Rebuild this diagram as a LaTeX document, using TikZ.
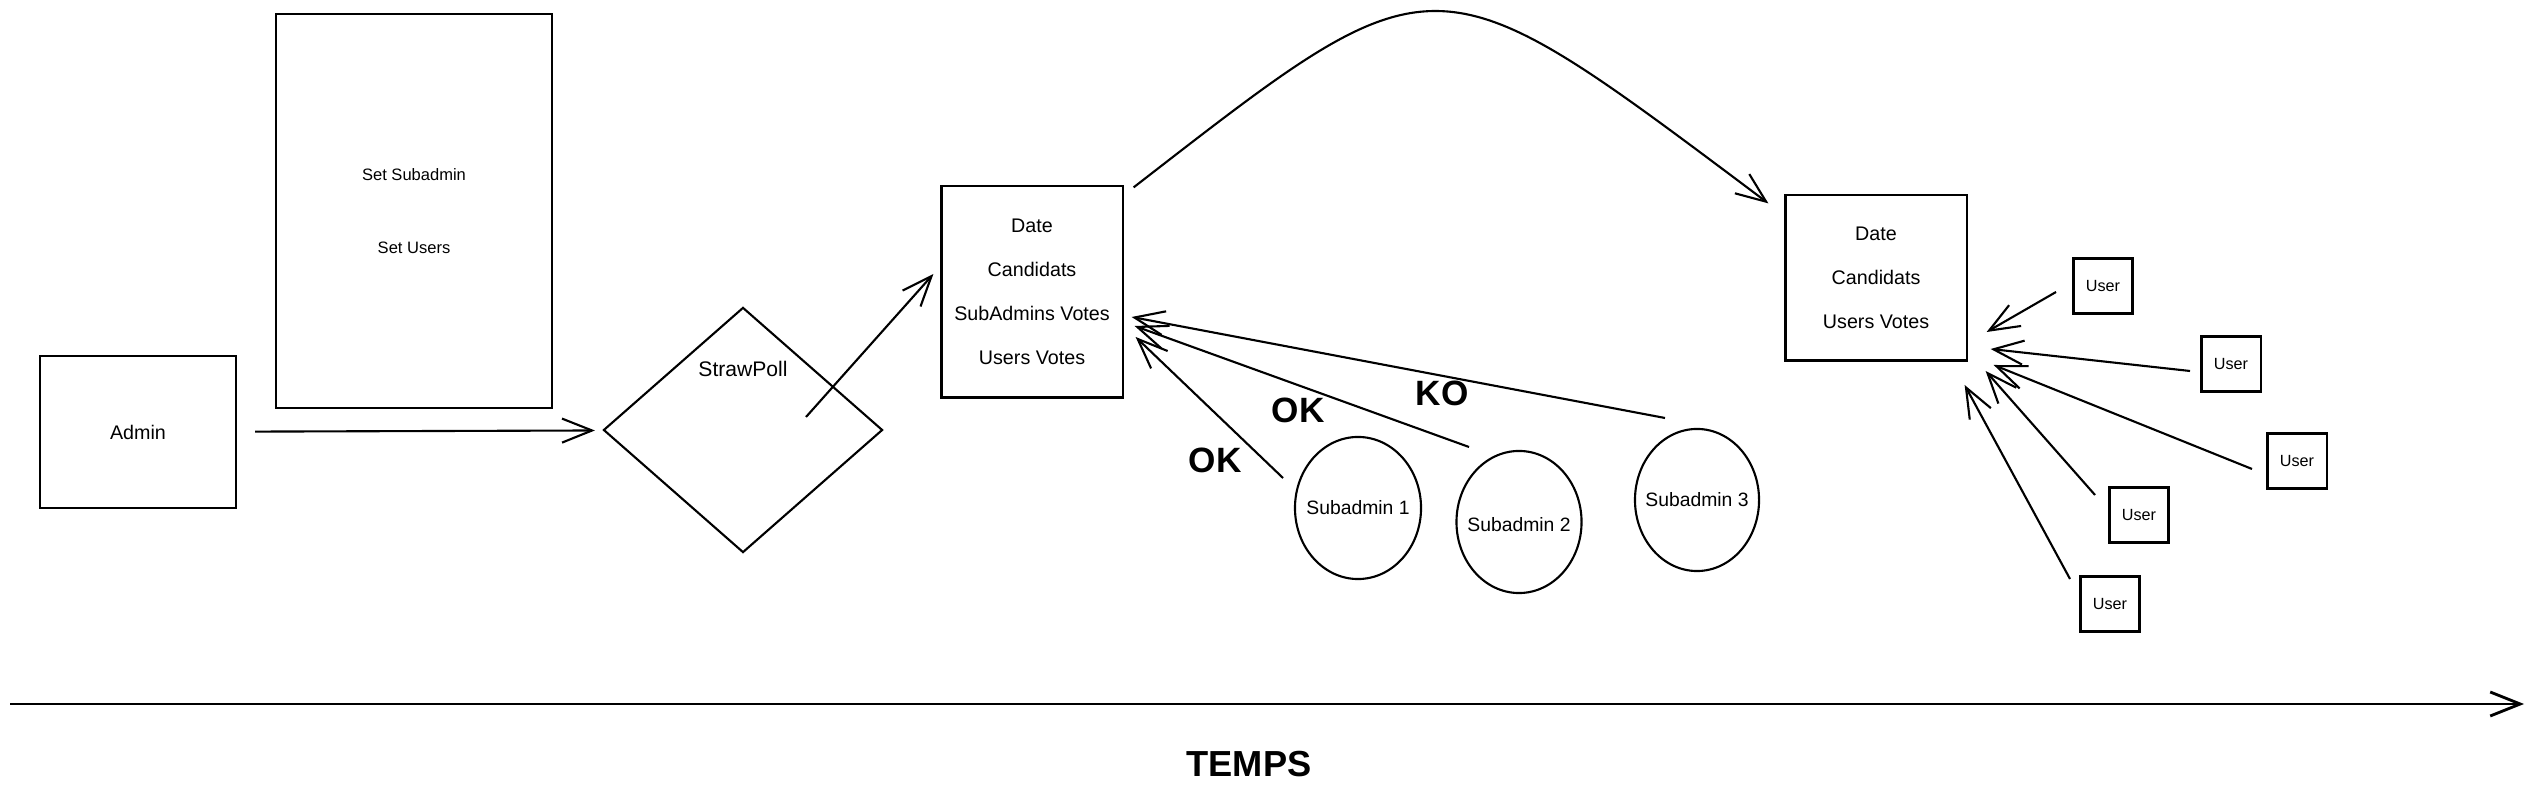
\documentclass[tikz,border=0pt]{standalone}
\usepackage{fontspec}
\setmainfont{Liberation Sans}
\usetikzlibrary{shapes.geometric, arrows.meta, positioning, calc}

\begin{document}
\begin{tikzpicture}[
    x=0.01cm, y=-0.01cm,
    box/.style={rectangle, draw, line width=0.6pt, inner sep=0pt, align=center, font=\fontsize{5.6}{12.5}\selectfont},
    userbox/.style={rectangle, draw, line width=0.6pt, minimum width=0.59cm, minimum height=0.55cm, inner sep=0pt, font=\fontsize{4.6}{5.5}\selectfont},
    subadmin/.style={ellipse, draw, line width=0.6pt, minimum width=1.26cm, minimum height=1.42cm, inner sep=0pt},
    subtext/.style={font=\fontsize{5.5}{6.6}\selectfont, inner sep=0pt},
    pollshape/.style={diamond, draw, line width=0.6pt, minimum width=2.79cm, minimum height=2.45cm, inner sep=0pt},
    vote/.style={font=\bfseries\fontsize{10}{12}\selectfont},
    arrow/.style={-{Straight Barb[length=3mm, width=2.4mm]}, line width=0.6pt}
]
\useasboundingbox (0,0) rectangle (2537,801);

% Nodes
\node (admin) [box, minimum width=1.96cm, minimum height=1.52cm] at (138,432) {Admin};
\node (setup) [box, minimum width=2.75cm, minimum height=3.93cm, font=\fontsize{4.7}{20.7}\selectfont] at (414,211) {Set Subadmin\\Set Users};
\node (poll) [pollshape] at (743,430) {};
\node (polltext) [font=\fontsize{6}{7}\selectfont] at ($(poll)+(0,-61)$) {StrawPoll};
\node (poll1) [box, minimum width=1.81cm, minimum height=2.11cm] at (1032,292) {Date\\Candidats\\SubAdmins Votes\\Users Votes};
\node (poll2) [box, minimum width=1.81cm, minimum height=1.65cm] at (1876,278) {Date\\Candidats\\Users Votes};

\node (sub1) [subadmin] at (1358,508) {};
\node (sub1text) [subtext] at (sub1) {Subadmin 1};
\node (sub2) [subadmin, minimum width=1.25cm] at (1519,522) {};
\node (sub2text) [subtext] at ($(sub2)+(0,3)$) {Subadmin 2};
\node (sub3) [subadmin, minimum width=1.24cm] at (1697,500) {};
\node (sub3text) [subtext] at (sub3) {Subadmin 3};

\node (user1) [userbox] at (2103,286) {User};
\node (user2) [userbox] at (2231,364) {User};
\node (user3) [userbox] at (2297,461) {User};
\node (user4) [userbox] at (2139,515) {User};
\node (user5) [userbox] at (2110,604) {User};

\node (ok1) [vote] at (1215,460) {OK};
\node (ok2) [vote] at (1298,410) {OK};
\node (ko) [vote] at (1442,393) {KO};

\coordinate (tstart) at (10,704);
\coordinate (tend) at (2524,704);
\node (temps) [font=\bfseries\fontsize{10.3}{12}\selectfont] at (1249,764) {TEMPS};

% Arrows
\draw [arrow, shorten <=0.18cm, shorten >=0.08cm] (admin) -- (poll);
\draw [arrow] ($(poll)+(63,-13)$) -- ($(poll1.west)+(-7,-18)$);
\draw [arrow] ($(poll1.north east)+(10,2)$) .. controls (1440,-50) and (1430,-50) .. ($(poll2.north west)+(-16,9)$);

% Subadmin votes
\draw [arrow] ($(sub1)+(-75,-30)$) -- ($(poll1.east)+(12,45)$);
\draw [arrow] ($(sub2)+(-50,-75)$) -- ($(poll1.east)+(11,34)$);
\draw [arrow] ($(sub3)+(-32,-82)$) -- ($(poll1.east)+(8,25)$);

% User votes
\draw [arrow] ($(user1)+(-47,6)$) -- ($(poll2.east)+(19,54)$);
\draw [arrow] ($(user2)+(-41,7)$) -- ($(poll2.east)+(23,71)$);
\draw [arrow] ($(user3)+(-45,8)$) -- ($(poll2.east)+(26,87)$);
\draw [arrow] ($(user4)+(-44,-20)$) -- ($(poll2.east)+(18,93)$);
\draw [arrow] ($(user5)+(-40,-25)$) -- ($(poll2.east)+(-3,107)$);

% Time axis
\draw [arrow, line width=0.8pt] (tstart) -- (tend);

\end{tikzpicture}
\end{document}
